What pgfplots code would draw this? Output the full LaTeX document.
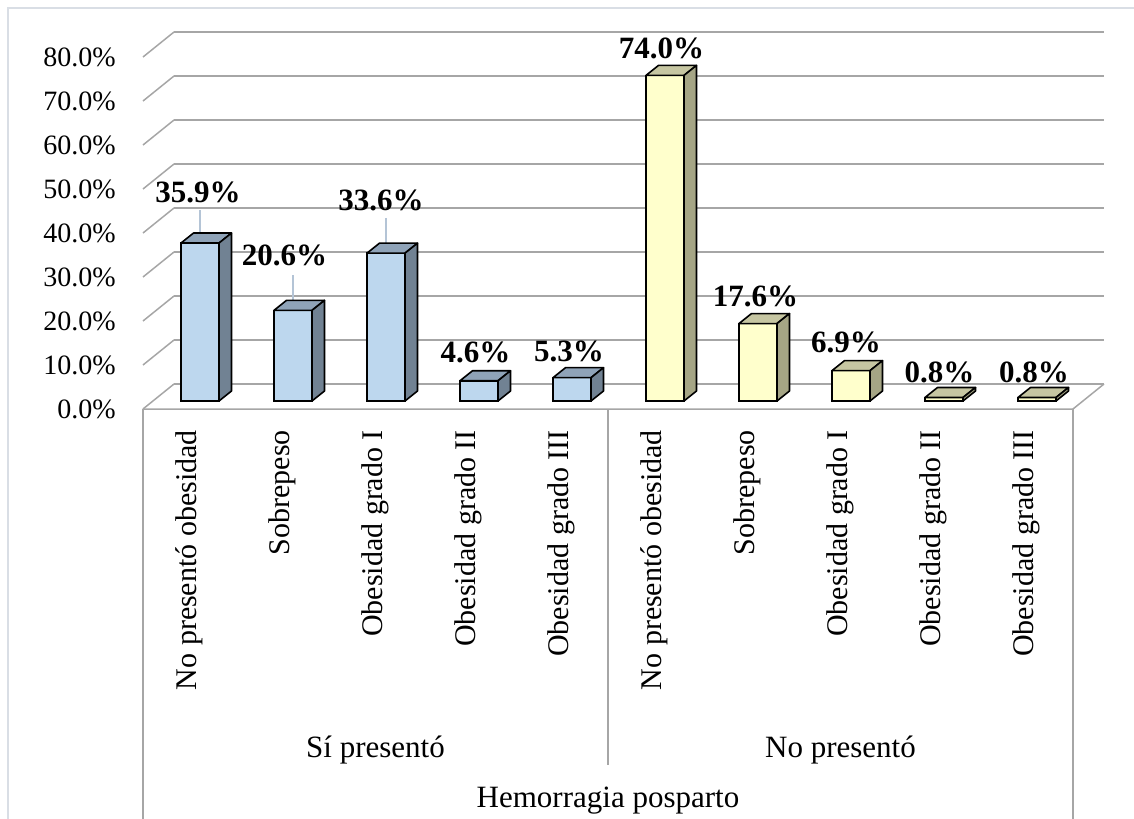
\documentclass[border=0pt]{standalone}
\usepackage{pgfplots}
\pgfplotsset{compat=1.18}
\usepackage{pgfplotstable}
\usepackage{fontspec}
\setmainfont{Liberation Serif}

\definecolor{frontblue}{HTML}{BDD7EE}
\definecolor{topblue}{HTML}{8FA3B8}
\definecolor{sideblue}{HTML}{718293}
\definecolor{frontyellow}{HTML}{FFFFCC}
\definecolor{topyellow}{HTML}{C6C6A2}
\definecolor{sideyellow}{HTML}{A5A585}
\definecolor{gridgray}{HTML}{A6A6A6}
\definecolor{leader}{HTML}{B4C4D6}
\definecolor{chartborder}{HTML}{D9DEE5}

% percentages per group; ld = leader length, lx/ly = label offset (bp)
\pgfplotstableread{
x v ld lx ly
0 35.9 7.5 -2 51
1 20.6 8 -8.5 55
2 33.6 8 -5 53
3 4.6 0 -3.5 28.5
4 5.3 0 -3 26
}\sipresento
\pgfplotstableread{
x v ld lx ly
5 74.0 0 -3.5 27
6 17.6 0 -2.5 27
7 6.9 0 -5 28
8 0.8 0 -4.5 25.5
9 0.8 0 -3 25.5
}\nopresento

% top and side faces of a 3D column; \barv is the column value (4.4 bp per unit)
\newdimen\cubeh
\newcommand\cubefaces[2]{%
  \cubeh=\barv bp\relax
  \cubeh=4.4\cubeh
  \pgfsetlinewidth{1.6bp}\pgfsetroundjoin\pgfsetstrokecolor{black}%
  \pgfsetfillcolor{#1}%
  \pgfpathmoveto{\pgfqpoint{-19bp}{0bp}}%
  \pgfpathlineto{\pgfqpoint{19bp}{0bp}}%
  \pgfpathlineto{\pgfqpoint{31.5bp}{10bp}}%
  \pgfpathlineto{\pgfqpoint{-6.5bp}{10bp}}%
  \pgfpathclose
  \pgfusepath{fill,stroke}%
  \pgfsetfillcolor{#2}%
  \pgfpathmoveto{\pgfqpoint{19bp}{0bp}}%
  \pgfpathlineto{\pgfqpoint{31.5bp}{10bp}}%
  \pgfpathlineto{\pgfqpoint{31.5bp}{\dimexpr10bp-\cubeh\relax}}%
  \pgfpathlineto{\pgfqpoint{19bp}{-\cubeh}}%
  \pgfpathclose
  \pgfusepath{fill,stroke}%
}
\pgfdeclareplotmark{cubeblue}{\cubefaces{topblue}{sideblue}}
\pgfdeclareplotmark{cubeyellow}{\cubefaces{topyellow}{sideyellow}}

\begin{document}
\begin{tikzpicture}
\useasboundingbox (0,0) rectangle (1134bp,819bp);
\draw[chartborder, line width=1.2bp] (8bp,-30bp) rectangle (1170bp,811bp);
\begin{axis}[
  at={(153.5bp,418bp)}, anchor=south west,
  scale only axis, width=930bp, height=352bp,
  xmin=-0.5, xmax=9.5, ymin=0, ymax=80,
  clip=false,
  axis line style={draw=none},
  major tick length=0pt,
  ymajorgrids,
  major grid style={gridgray, line width=1.5bp, xshift=20.5bp, yshift=17bp},
  xtick={0,...,9},
  xticklabels={No presentó obesidad, Sobrepeso, Obesidad grado I, Obesidad grado II, Obesidad grado III,
               No presentó obesidad, Sobrepeso, Obesidad grado I, Obesidad grado II, Obesidad grado III},
  ytick={0,10,...,80},
  /pgf/number format/assume math mode=true,
  yticklabel={\pgfmathprintnumber[fixed,fixed zerofill,precision=1]{\tick}\%},
  yticklabel style={font=\fontsize{28bp}{34bp}\selectfont, anchor=east, inner sep=0pt, xshift=-37.5bp, yshift=-8bp},
  xticklabel style={font=\fontsize{30bp}{36bp}\selectfont, inner sep=0pt, xshift=-10.5bp, yshift=-29bp, rotate=90, anchor=east},
  cube/.style={scatter, only marks, visualization depends on={\thisrow{v} \as \barv}},
  column/.style={ybar, bar width=38bp, bar shift=0pt, draw=black, line width=1.6bp,
    visualization depends on={\thisrow{lx} \as \lx},
    visualization depends on={\thisrow{ly} \as \ly},
    nodes near coords={\pgfmathprintnumber[fixed,fixed zerofill,precision=1]{\pgfplotspointmeta}\%},
    every node near coord/.append style={font=\fontsize{31bp}{34bp}\bfseries\selectfont,
      text=black, inner sep=0pt, anchor=center, xshift=\lx bp, yshift=\ly bp}},
]
\addplot[cube, mark=cubeblue] table[x=x, y=v] {\sipresento};
\addplot[cube, mark=cubeyellow] table[x=x, y=v] {\nopresento};

\addplot[column, fill=frontblue,
  error bars/.cd, y dir=plus, y explicit, error mark=none,
  error bar style={draw=leader, line width=1.2bp}]
  table[x=x, y=v, y error=ld] {\sipresento};
\addplot[column, fill=frontyellow] table[x=x, y=v] {\nopresento};

% left diagonals of the back wall, floor and category axis lines
\draw[gridgray, line width=1.5bp]
  ([shift={(-10.5bp,-8bp)}]axis cs:-0.5,0) -- ([shift={(20.5bp,17bp)}]axis cs:-0.5,0)
  ([shift={(-10.5bp,-8bp)}]axis cs:-0.5,10) -- ([shift={(20.5bp,17bp)}]axis cs:-0.5,10)
  ([shift={(-10.5bp,-8bp)}]axis cs:-0.5,20) -- ([shift={(20.5bp,17bp)}]axis cs:-0.5,20)
  ([shift={(-10.5bp,-8bp)}]axis cs:-0.5,30) -- ([shift={(20.5bp,17bp)}]axis cs:-0.5,30)
  ([shift={(-10.5bp,-8bp)}]axis cs:-0.5,40) -- ([shift={(20.5bp,17bp)}]axis cs:-0.5,40)
  ([shift={(-10.5bp,-8bp)}]axis cs:-0.5,50) -- ([shift={(20.5bp,17bp)}]axis cs:-0.5,50)
  ([shift={(-10.5bp,-8bp)}]axis cs:-0.5,60) -- ([shift={(20.5bp,17bp)}]axis cs:-0.5,60)
  ([shift={(-10.5bp,-8bp)}]axis cs:-0.5,70) -- ([shift={(20.5bp,17bp)}]axis cs:-0.5,70)
  ([shift={(-10.5bp,-8bp)}]axis cs:-0.5,80) -- ([shift={(20.5bp,17bp)}]axis cs:-0.5,80);
\draw[gridgray, line width=1.5bp]
  ([shift={(-10.5bp,-8bp)}]axis cs:-0.5,0) -- ([shift={(-10.5bp,-8bp)}]axis cs:9.5,0)
  -- ([shift={(20.5bp,17bp)}]axis cs:9.5,0);
\draw[gridgray, line width=1.5bp]
  ([shift={(-10.5bp,-8bp)}]axis cs:-0.5,0) -- ([shift={(-10.5bp,-470bp)}]axis cs:-0.5,0);
\draw[gridgray, line width=1.5bp]
  ([shift={(-10.5bp,-8bp)}]axis cs:4.5,0) -- ([shift={(-10.5bp,-364bp)}]axis cs:4.5,0);
\draw[gridgray, line width=1.5bp]
  ([shift={(-10.5bp,-8bp)}]axis cs:9.5,0) -- ([shift={(-10.5bp,-470bp)}]axis cs:9.5,0);

% group levels of the category axis
\node[font=\fontsize{31bp}{36bp}\selectfont, anchor=base] at ([shift={(-10.5bp,-356bp)}]axis cs:2,0) {Sí presentó};
\node[font=\fontsize{31bp}{36bp}\selectfont, anchor=base] at ([shift={(-10.5bp,-356bp)}]axis cs:7,0) {No presentó};
\node[font=\fontsize{31bp}{36bp}\selectfont, anchor=base] at ([shift={(-10.5bp,-406bp)}]axis cs:4.5,0) {Hemorragia posparto};
\end{axis}
\end{tikzpicture}
\end{document}
